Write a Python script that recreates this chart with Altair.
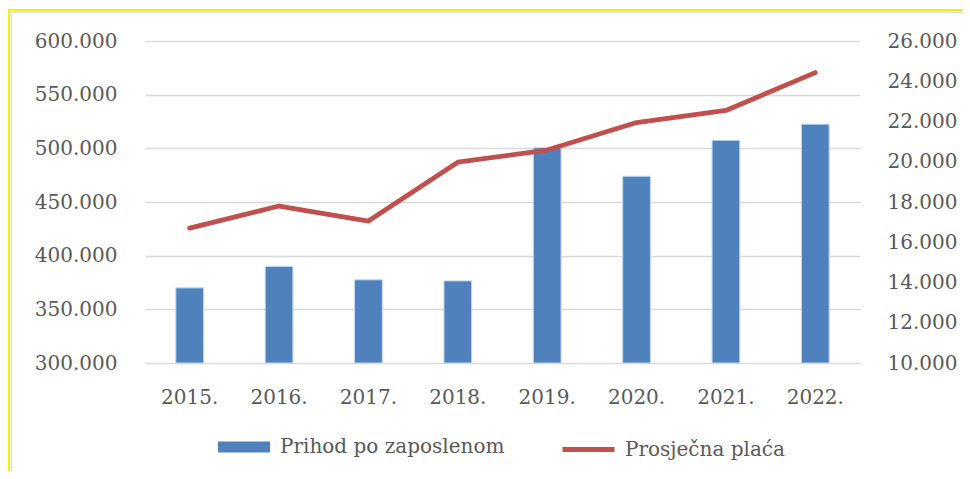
import altair as alt
import pandas as pd

years = ["2015.", "2016.", "2017.", "2018.", "2019.", "2020.", "2021.", "2022."]
prihod = [370000, 390000, 377500, 376500, 500500, 474000, 507500, 522500]
placa = [16700, 17800, 17050, 19980, 20580, 21950, 22550, 24430]

df = pd.DataFrame({"god": years, "prihod": prihod, "placa": placa})
df["s1"] = "Prihod po zaposlenom"
df["s2"] = "Prosječna plaća"

FONT = "DejaVu Serif"
TXT = "#595959"

x_enc = alt.X("god:N", sort=years,
              scale=alt.Scale(paddingInner=0.69, paddingOuter=0.345),
              axis=alt.Axis(title=None, labelAngle=0, domain=False, ticks=False, grid=False,
                            labelPadding=24, labelFontSize=20, labelColor=TXT, labelFont=FONT))

bars = alt.Chart(df).mark_bar(stroke="#c6d5ea", strokeWidth=1).encode(
    x=x_enc,
    y=alt.Y("prihod:Q",
            scale=alt.Scale(domain=[300000, 600000], zero=False, nice=False),
            axis=alt.Axis(title=None, values=[300000, 350000, 400000, 450000, 500000, 550000, 600000],
                          labelExpr="replace(format(datum.value, ','), ',', '.')",
                          domain=False, ticks=False, labelPadding=28, grid=True,
                          gridColor="#d9d9d9", gridWidth=1.5,
                          labelFontSize=20, labelColor=TXT, labelFont=FONT)),
    y2=alt.datum(300000),
    fill=alt.Fill("s1:N", scale=alt.Scale(range=["#4F81BD"]),
                  legend=alt.Legend(title=None, orient="none", legendX=73, legendY=380,
                                    symbolType="M-1,-0.21H1V0.21H-1Z", symbolSize=2704,
                                    symbolStrokeWidth=0, labelOffset=10, padding=0,
                                    labelLimit=0,
                                    labelFontSize=20, labelColor=TXT, labelFont=FONT)),
)

line = alt.Chart(df).mark_line(strokeWidth=4.8, strokeCap="round", strokeJoin="round").encode(
    x=alt.X("god:N", sort=years),
    y=alt.Y("placa:Q",
            scale=alt.Scale(domain=[10000, 26000], zero=False, nice=False),
            axis=alt.Axis(title=None, orient="right",
                          values=[10000, 12000, 14000, 16000, 18000, 20000, 22000, 24000, 26000],
                          labelExpr="replace(format(datum.value, ','), ',', '.')",
                          domain=False, ticks=False, labelPadding=27, grid=False,
                          labelFontSize=20, labelColor=TXT, labelFont=FONT)),
    stroke=alt.Stroke("s2:N", scale=alt.Scale(range=["#C0504D"]),
                      legend=alt.Legend(title=None, orient="none", legendX=415, legendY=380,
                                        symbolType="stroke", symbolSize=2704,
                                        symbolStrokeWidth=5, labelOffset=8, padding=0,
                                        labelLimit=0,
                                        labelFontSize=20, labelColor=TXT, labelFont=FONT)),
)

frame_df = pd.DataFrame({"k": [0]})
frame_y = alt.Chart(frame_df).mark_rect(fill=None, stroke="#f2f200", strokeWidth=2).encode(
    x=alt.value(-136), x2=alt.value(840), y=alt.value(-31), y2=alt.value(460))
frame_g = alt.Chart(frame_df).mark_rect(fill=None, stroke="#d9d9d9", strokeWidth=1).encode(
    x=alt.value(-133.5), x2=alt.value(840), y=alt.value(-28.5), y2=alt.value(460))

chart = alt.layer(bars, line, frame_y, frame_g).resolve_scale(y="independent").properties(
    width=715, height=322,
    autosize=alt.AutoSizeParams(type="none"),
    padding={"left": 137, "top": 33, "right": 102, "bottom": 108},
).configure(font=FONT, view=alt.ViewConfig(stroke="transparent", strokeWidth=0))

chart.save("out.html", embed_options={"renderer": "svg", "actions": False})
